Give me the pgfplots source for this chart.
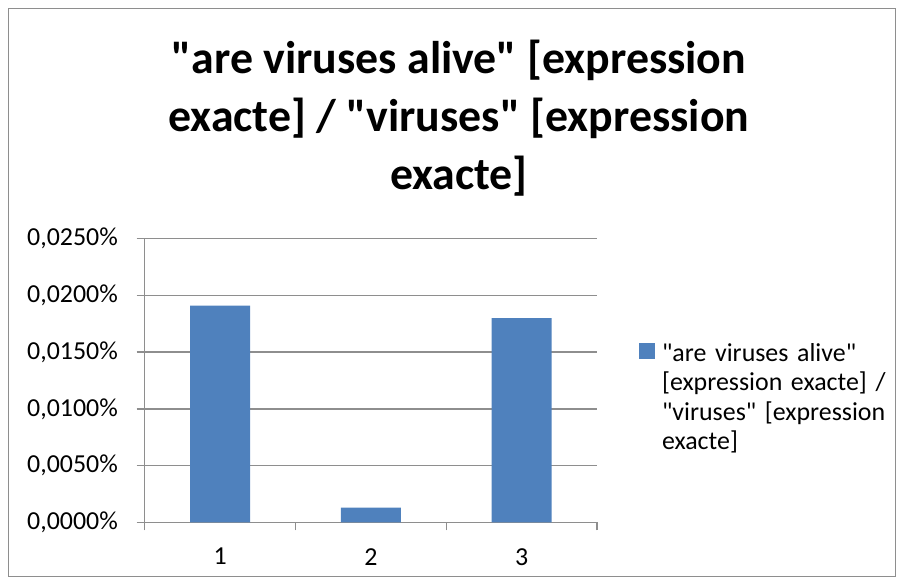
\documentclass[border=0pt]{standalone}
\usepackage{fontspec}
\setmainfont{Carlito}[Ligatures=TeXOff]
\usepackage{pgfplots}
\pgfplotsset{compat=1.18}
\definecolor{barblue}{HTML}{4F81BD}
\definecolor{axgray}{HTML}{8E8E8E}
\begin{document}
\begin{tikzpicture}
\useasboundingbox (0bp,0bp) rectangle (904bp,585bp);
\draw[axgray, line width=1bp] (8.5bp,8.5bp) rectangle (895.5bp,576.5bp);
\tikzset{ttl/.style={font=\fontsize{46}{58}\selectfont\bfseries, anchor=base, inner sep=0pt}}
\node[ttl] at (459bp,511bp) {"are viruses alive" [expression};
\node[ttl] at (459bp,453bp) {exacte] / "viruses" [expression};
\node[ttl] at (459bp,395bp) {exacte]};
\begin{axis}[
  at={(144.7bp,62.7bp)}, anchor=south west, scale only axis,
  width=452.3bp, height=283.6bp,
  xmin=0.5, xmax=3.5, ymin=0, ymax=0.025,
  enlargelimits=false,
  axis x line*=bottom, axis y line*=left,
  axis line style={axgray, line width=1.3bp},
  ybar, bar width=60bp,
  xtick={1,2,3},
  minor xtick={0.5,1.5,2.5,3.5},
  ytick={0,0.005,0.01,0.015,0.02,0.025},
  scaled y ticks=false,
  yticklabel={\pgfmathprintnumber[fixed,fixed zerofill,precision=4,use comma]{\tick}\%},
  /pgf/number format/assume math mode=true,
  tick align=outside,
  major tick length=8bp, minor tick length=8bp,
  major x tick style={draw=none},
  minor x tick style={axgray, line width=1.3bp},
  ytick style={axgray, line width=1.3bp},
  ymajorgrids, grid style={axgray, line width=1.3bp},
  tick label style={font=\fontsize{26}{29.5}\selectfont, inner sep=0pt},
  yticklabel style={anchor=east, xshift=-18.7bp},
  xticklabel style={anchor=north, yshift=-17.7bp},
  legend style={draw=none, fill=none, inner sep=0pt, outer sep=0pt,
    at={(axis description cs:1.093,0.631)}, anchor=north west,
    /tikz/every odd column/.append style={column sep=7bp},
    nodes={anchor=base west, align=left, text width=240bp, inner sep=0pt,
      font=\fontsize{26}{29.5}\selectfont}},
  legend image code/.code={\fill[barblue] (0bp,2bp) rectangle (16bp,18bp);},
]
\addplot[fill=barblue, draw=none] coordinates {(1,0.0191) (2,0.0013) (3,0.0180)};
\addlegendentry{"are viruses alive"\\{[}expression exacte{]} /\\"viruses" {[}expression\\exacte{]}}
\end{axis}
\end{tikzpicture}
\end{document}
